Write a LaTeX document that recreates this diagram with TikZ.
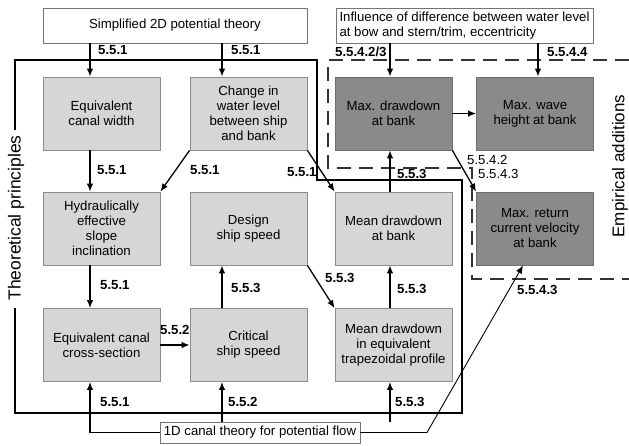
\documentclass[tikz,border=0pt]{standalone}
\usepackage{fontspec}
\setmainfont{Liberation Sans}
\usetikzlibrary{arrows.meta}
\definecolor{lightfill}{HTML}{D6D6D6}
\definecolor{boxborder}{HTML}{8C8C8C}
\definecolor{darkfill}{HTML}{8A8A8A}
\definecolor{darkborder}{HTML}{6E6E6E}
\begin{document}
\begin{tikzpicture}[x=1pt,y=-1pt,
  txt/.style={font=\fontsize{13.2}{15}\selectfont},
  lbox/.style={txt, draw=boxborder, fill=lightfill, line width=0.8pt, minimum width=117pt, minimum height=73pt, align=center, inner sep=1pt},
  dbox/.style={lbox, fill=darkfill, draw=darkborder},
  wbox/.style={txt, draw=black!55, fill=white, line width=0.8pt, inner sep=2pt},
  arr/.style={line width=1.3pt, -{Latex[length=8pt,width=6.5pt]}},
  tarr/.style={line width=0.9pt, -{Latex[length=8pt,width=6.5pt]}},
  lab/.style={font=\fontsize{13.2}{15}\selectfont\bfseries, inner sep=0pt, anchor=west},
  labn/.style={font=\fontsize{13.2}{15}\selectfont, inner sep=0pt, anchor=west},
  frame/.style={line width=1.3pt},
  dframe/.style={line width=1.8pt, dash pattern=on 14pt off 8pt, draw=black!80}
]
\useasboundingbox (0,0) rectangle (629,445);

% frames
\draw[frame] (15,130) -- (15,60) -- (317,60) -- (317,180) -- (462,180) -- (462,413) -- (15,413) -- (15,308);
\draw[dframe] (629,60) -- (328,60) -- (328,168) -- (472,168) -- (472,279) -- (629,279);

% white boxes
\node[wbox, minimum width=264pt, minimum height=35pt] (sim) at (175,25.5) {Simplified 2D potential theory};
\node[wbox, minimum width=257pt, minimum height=35pt, align=left] (inf) at (464.5,25.5) {Influence of difference between water level\\at bow and stern/trim, eccentricity};
\node[wbox, minimum width=200pt, minimum height=21pt] (oned) at (260,432.5) {1D canal theory for potential flow};

% grey boxes
\node[lbox] (ecw) at (101.5,113.5) {Equivalent\\canal width};
\node[lbox] (chg) at (248.5,113.5) {Change in\\water level\\between ship\\and bank};
\node[lbox] (hyd) at (101.5,228.5) {Hydraulically\\effective\\slope\\inclination};
\node[lbox] (des) at (248.5,228.5) {Design\\ship speed};
\node[lbox] (eqc) at (101.5,345) {Equivalent canal\\cross-section};
\node[lbox] (crit) at (248.5,345) {Critical\\ship speed};
\node[lbox] (mdb) at (393.5,228.5) {Mean drawdown\\at bank};
\node[lbox] (mdt) at (393.5,345) {Mean drawdown\\in equivalent\\trapezoidal profile};
\node[dbox] (mxd) at (393.5,113.5) {Max. drawdown\\at bank};
\node[dbox] (mxw) at (535,113.5) {Max. wave\\height at bank};
\node[dbox] (mxr) at (535,228.5) {Max. return\\current velocity\\at bank};

% rotated titles
\node[rotate=90, font=\fontsize{17.5}{20}\selectfont, inner sep=0pt] (tp) at (16,218) {Theoretical principles};
\node[rotate=90, font=\fontsize{17}{20}\selectfont, inner sep=0pt] (ea) at (620,166) {Empirical additions};

% helper coordinates
\coordinate (ax1) at (90,0);
\coordinate (ax2) at (222,0);
\coordinate (ax3) at (390,0);
\coordinate (ax4) at (538,0);
\coordinate (ax5) at (523,0);
\coordinate (t3) at (390,422);
\coordinate (bend) at (427,432.5);

% connectors
\draw[arr] (sim.south -| ax1) -- (ecw.north -| ax1);
\draw[arr] (sim.south -| ax2) -- (chg.north -| ax2);
\draw[arr] (ecw.south -| ax1) -- (hyd.north -| ax1);
\draw[arr] (chg.south west) -- (hyd.north east);
\draw[arr] (chg.south east) -- (mdb.north west);
\draw[arr] (hyd.south -| ax1) -- (eqc.north -| ax1);
\draw[arr] (eqc.east) -- (crit.west);
\draw[arr] (crit.north -| ax2) -- (des.south -| ax2);
\draw[arr] (des.south east) -- (mdt.north west);
\draw[arr] (mdt.north -| ax3) -- (mdb.south -| ax3);
\draw[arr] (mdb.north -| ax3) -- (mxd.south -| ax3);
\draw[arr] (mxd.east) -- (mxw.west);
\draw[arr] (mxd.south east) -- (mxr.north west);
\draw[arr] (inf.south -| ax3) -- (mxd.north -| ax3);
\draw[arr] (inf.south -| ax4) -- (mxw.north -| ax4);
\draw[arr] (oned.west) -| (eqc.south -| ax1);
\draw[arr] (oned.north -| ax2) -- (crit.south -| ax2);
\draw[arr] (t3) -- (mdt.south -| ax3);
\draw[tarr] (oned.east) -- (bend) -- (mxr.south -| ax5);

% labels
\node[lab] (l1) at (98,50) {5.5.1};
\node[lab] (l2) at (231,50) {5.5.1};
\node[lab] (l3) at (97,170) {5.5.1};
\node[lab] (l4) at (190,170) {5.5.1};
\node[lab] (l5) at (287,172) {5.5.1};
\node[lab] (l6) at (100,285) {5.5.1};
\node[lab] (l7) at (160,330) {5.5.2};
\node[lab] (l8) at (231,288) {5.5.3};
\node[lab] (l9) at (325,278) {5.5.3};
\node[lab] (l10) at (397,289) {5.5.3};
\node[lab] (l11) at (397,174) {5.5.3};
\node[lab] (l12) at (335,52) {5.5.4.2/3};
\node[lab] (l13) at (547,52) {5.5.4.4};
\node[labn] (l14) at (467,160) {5.5.4.2};
\node[labn] (l15) at (478,174) {5.5.4.3};
\node[lab] (l16) at (517,290) {5.5.4.3};
\node[lab] (l17) at (100,402) {5.5.1};
\node[lab] (l18) at (228,402) {5.5.2};
\node[lab] (l19) at (395,402) {5.5.3};
\end{tikzpicture}
\end{document}
